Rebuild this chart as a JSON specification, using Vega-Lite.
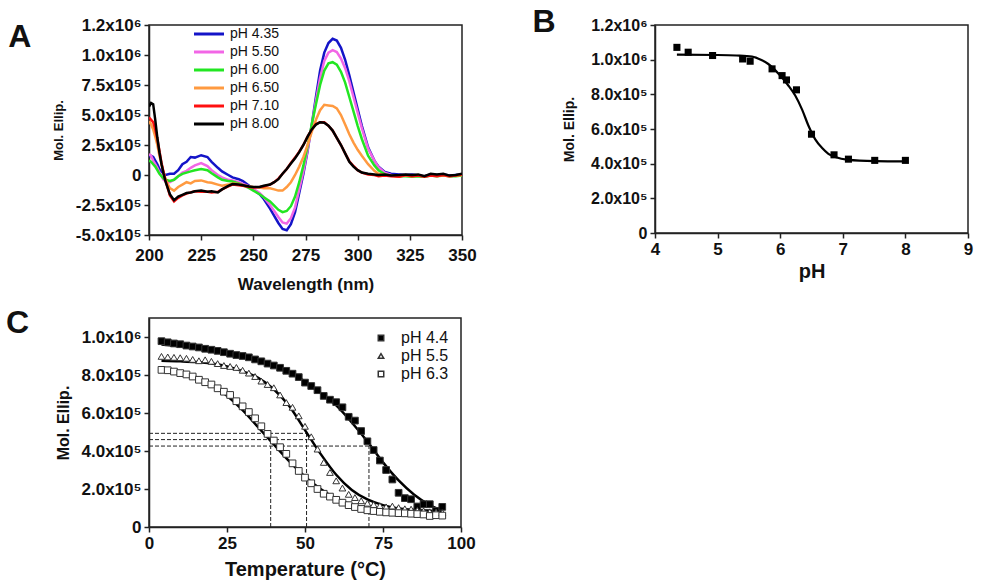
{
  "$schema": "https://vega.github.io/schema/vega-lite/v6.json",
  "padding": {"left": 5, "top": 5, "right": 5, "bottom": 5},
  "background": "white",
  "config": {
    "font": "Liberation Sans",
    "view": {"stroke": "#222", "strokeWidth": 1.5},
    "axis": {"grid": false, "domainColor": "#222", "domainWidth": 1.5, "tickColor": "#222", "tickWidth": 1.5, "tickSize": 5, "labelFontWeight": "bold", "labelColor": "#111", "titleFontWeight": "bold", "titleColor": "#111", "labelFontSize": 17, "labelPadding": 3, "labelFlush": false, "labelBound": false},
    "title": {"fontSize": 32, "fontWeight": "bold", "anchor": "start", "frame": "bounds", "color": "#111", "offset": 0, "baseline": "alphabetic"},
    "legend": {"labelFont": "Liberation Sans", "labelColor": "#111"}
  },
  "resolve": {"legend": {"color": "independent", "shape": "independent", "fill": "independent"}},
  "datasets": {
    "cd": [
      {"w":200,"pH 4.35":155000,"pH 5.50":175000,"pH 6.00":120000,"pH 6.50":450000,"pH 7.10":480000,"pH 8.00":570000},
      {"w":201,"pH 4.35":160000,"pH 5.50":160000,"pH 6.00":110000,"pH 6.50":420000,"pH 7.10":460000,"pH 8.00":600000},
      {"w":202,"pH 4.35":150000,"pH 5.50":120000,"pH 6.00":90000,"pH 6.50":380000,"pH 7.10":440000,"pH 8.00":590000},
      {"w":203,"pH 4.35":120000,"pH 5.50":90000,"pH 6.00":70000,"pH 6.50":320000,"pH 7.10":380000,"pH 8.00":460000},
      {"w":204,"pH 4.35":90000,"pH 5.50":60000,"pH 6.00":40000,"pH 6.50":250000,"pH 7.10":300000,"pH 8.00":310000},
      {"w":205,"pH 4.35":50000,"pH 5.50":20000,"pH 6.00":10000,"pH 6.50":160000,"pH 7.10":200000,"pH 8.00":190000},
      {"w":206,"pH 4.35":30000,"pH 5.50":-10000,"pH 6.00":-10000,"pH 6.50":90000,"pH 7.10":100000,"pH 8.00":90000},
      {"w":207,"pH 4.35":10000,"pH 5.50":-40000,"pH 6.00":-30000,"pH 6.50":20000,"pH 7.10":20000,"pH 8.00":10000},
      {"w":208,"pH 4.35":0,"pH 5.50":-50000,"pH 6.00":-40000,"pH 6.50":-40000,"pH 7.10":-50000,"pH 8.00":-60000},
      {"w":210,"pH 4.35":10000,"pH 5.50":-60000,"pH 6.00":-50000,"pH 6.50":-110000,"pH 7.10":-170000,"pH 8.00":-160000},
      {"w":212,"pH 4.35":10000,"pH 5.50":-40000,"pH 6.00":-40000,"pH 6.50":-130000,"pH 7.10":-220000,"pH 8.00":-210000},
      {"w":214,"pH 4.35":40000,"pH 5.50":-10000,"pH 6.00":-10000,"pH 6.50":-100000,"pH 7.10":-190000,"pH 8.00":-180000},
      {"w":216,"pH 4.35":90000,"pH 5.50":20000,"pH 6.00":10000,"pH 6.50":-80000,"pH 7.10":-170000,"pH 8.00":-165000},
      {"w":218,"pH 4.35":110000,"pH 5.50":35000,"pH 6.00":20000,"pH 6.50":-60000,"pH 7.10":-155000,"pH 8.00":-150000},
      {"w":220,"pH 4.35":150000,"pH 5.50":60000,"pH 6.00":30000,"pH 6.50":-70000,"pH 7.10":-145000,"pH 8.00":-145000},
      {"w":222,"pH 4.35":145000,"pH 5.50":80000,"pH 6.00":40000,"pH 6.50":-50000,"pH 7.10":-135000,"pH 8.00":-135000},
      {"w":225,"pH 4.35":165000,"pH 5.50":100000,"pH 6.00":50000,"pH 6.50":-45000,"pH 7.10":-140000,"pH 8.00":-130000},
      {"w":228,"pH 4.35":150000,"pH 5.50":75000,"pH 6.00":40000,"pH 6.50":-60000,"pH 7.10":-140000,"pH 8.00":-140000},
      {"w":230,"pH 4.35":110000,"pH 5.50":40000,"pH 6.00":15000,"pH 6.50":-65000,"pH 7.10":-145000,"pH 8.00":-135000},
      {"w":233,"pH 4.35":60000,"pH 5.50":0,"pH 6.00":-20000,"pH 6.50":-80000,"pH 7.10":-140000,"pH 8.00":-145000},
      {"w":235,"pH 4.35":30000,"pH 5.50":-20000,"pH 6.00":-40000,"pH 6.50":-90000,"pH 7.10":-120000,"pH 8.00":-120000},
      {"w":238,"pH 4.35":0,"pH 5.50":-40000,"pH 6.00":-50000,"pH 6.50":-80000,"pH 7.10":-95000,"pH 8.00":-90000},
      {"w":240,"pH 4.35":-20000,"pH 5.50":-45000,"pH 6.00":-55000,"pH 6.50":-70000,"pH 7.10":-80000,"pH 8.00":-75000},
      {"w":243,"pH 4.35":-35000,"pH 5.50":-60000,"pH 6.00":-70000,"pH 6.50":-75000,"pH 7.10":-85000,"pH 8.00":-80000},
      {"w":245,"pH 4.35":-50000,"pH 5.50":-75000,"pH 6.00":-85000,"pH 6.50":-85000,"pH 7.10":-90000,"pH 8.00":-85000},
      {"w":248,"pH 4.35":-90000,"pH 5.50":-95000,"pH 6.00":-110000,"pH 6.50":-95000,"pH 7.10":-100000,"pH 8.00":-95000},
      {"w":250,"pH 4.35":-120000,"pH 5.50":-115000,"pH 6.00":-130000,"pH 6.50":-100000,"pH 7.10":-105000,"pH 8.00":-100000},
      {"w":253,"pH 4.35":-160000,"pH 5.50":-150000,"pH 6.00":-160000,"pH 6.50":-105000,"pH 7.10":-100000,"pH 8.00":-100000},
      {"w":255,"pH 4.35":-200000,"pH 5.50":-185000,"pH 6.00":-185000,"pH 6.50":-110000,"pH 7.10":-95000,"pH 8.00":-90000},
      {"w":258,"pH 4.35":-280000,"pH 5.50":-250000,"pH 6.00":-220000,"pH 6.50":-110000,"pH 7.10":-80000,"pH 8.00":-80000},
      {"w":260,"pH 4.35":-340000,"pH 5.50":-300000,"pH 6.00":-255000,"pH 6.50":-120000,"pH 7.10":-60000,"pH 8.00":-60000},
      {"w":262,"pH 4.35":-400000,"pH 5.50":-350000,"pH 6.00":-290000,"pH 6.50":-130000,"pH 7.10":-30000,"pH 8.00":-35000},
      {"w":264,"pH 4.35":-450000,"pH 5.50":-395000,"pH 6.00":-310000,"pH 6.50":-130000,"pH 7.10":10000,"pH 8.00":10000},
      {"w":266,"pH 4.35":-460000,"pH 5.50":-405000,"pH 6.00":-300000,"pH 6.50":-100000,"pH 7.10":50000,"pH 8.00":50000},
      {"w":268,"pH 4.35":-410000,"pH 5.50":-360000,"pH 6.00":-260000,"pH 6.50":-60000,"pH 7.10":100000,"pH 8.00":95000},
      {"w":270,"pH 4.35":-310000,"pH 5.50":-270000,"pH 6.00":-180000,"pH 6.50":0,"pH 7.10":145000,"pH 8.00":140000},
      {"w":272,"pH 4.35":-150000,"pH 5.50":-120000,"pH 6.00":-60000,"pH 6.50":70000,"pH 7.10":195000,"pH 8.00":190000},
      {"w":274,"pH 4.35":10000,"pH 5.50":30000,"pH 6.00":80000,"pH 6.50":150000,"pH 7.10":250000,"pH 8.00":250000},
      {"w":276,"pH 4.35":200000,"pH 5.50":210000,"pH 6.00":240000,"pH 6.50":250000,"pH 7.10":320000,"pH 8.00":320000},
      {"w":278,"pH 4.35":420000,"pH 5.50":410000,"pH 6.00":420000,"pH 6.50":360000,"pH 7.10":380000,"pH 8.00":380000},
      {"w":280,"pH 4.35":650000,"pH 5.50":620000,"pH 6.00":590000,"pH 6.50":460000,"pH 7.10":425000,"pH 8.00":420000},
      {"w":282,"pH 4.35":870000,"pH 5.50":810000,"pH 6.00":750000,"pH 6.50":540000,"pH 7.10":440000,"pH 8.00":440000},
      {"w":284,"pH 4.35":1020000,"pH 5.50":950000,"pH 6.00":870000,"pH 6.50":585000,"pH 7.10":440000,"pH 8.00":435000},
      {"w":286,"pH 4.35":1100000,"pH 5.50":1020000,"pH 6.00":930000,"pH 6.50":580000,"pH 7.10":410000,"pH 8.00":410000},
      {"w":288,"pH 4.35":1135000,"pH 5.50":1040000,"pH 6.00":940000,"pH 6.50":575000,"pH 7.10":370000,"pH 8.00":370000},
      {"w":290,"pH 4.35":1120000,"pH 5.50":1025000,"pH 6.00":920000,"pH 6.50":555000,"pH 7.10":310000,"pH 8.00":310000},
      {"w":292,"pH 4.35":1060000,"pH 5.50":970000,"pH 6.00":860000,"pH 6.50":500000,"pH 7.10":250000,"pH 8.00":250000},
      {"w":294,"pH 4.35":960000,"pH 5.50":890000,"pH 6.00":770000,"pH 6.50":420000,"pH 7.10":180000,"pH 8.00":180000},
      {"w":296,"pH 4.35":830000,"pH 5.50":780000,"pH 6.00":650000,"pH 6.50":340000,"pH 7.10":115000,"pH 8.00":110000},
      {"w":298,"pH 4.35":690000,"pH 5.50":650000,"pH 6.00":530000,"pH 6.50":270000,"pH 7.10":75000,"pH 8.00":70000},
      {"w":300,"pH 4.35":550000,"pH 5.50":520000,"pH 6.00":410000,"pH 6.50":210000,"pH 7.10":40000,"pH 8.00":40000},
      {"w":302,"pH 4.35":410000,"pH 5.50":390000,"pH 6.00":300000,"pH 6.50":160000,"pH 7.10":20000,"pH 8.00":20000},
      {"w":305,"pH 4.35":230000,"pH 5.50":220000,"pH 6.00":160000,"pH 6.50":90000,"pH 7.10":5000,"pH 8.00":10000},
      {"w":308,"pH 4.35":120000,"pH 5.50":120000,"pH 6.00":80000,"pH 6.50":35000,"pH 7.10":0,"pH 8.00":5000},
      {"w":310,"pH 4.35":70000,"pH 5.50":65000,"pH 6.00":40000,"pH 6.50":10000,"pH 7.10":-10000,"pH 8.00":0},
      {"w":313,"pH 4.35":25000,"pH 5.50":20000,"pH 6.00":5000,"pH 6.50":0,"pH 7.10":-5000,"pH 8.00":5000},
      {"w":316,"pH 4.35":10000,"pH 5.50":0,"pH 6.00":-5000,"pH 6.50":-5000,"pH 7.10":-10000,"pH 8.00":-5000},
      {"w":320,"pH 4.35":5000,"pH 5.50":-10000,"pH 6.00":-10000,"pH 6.50":-10000,"pH 7.10":-15000,"pH 8.00":0},
      {"w":323,"pH 4.35":0,"pH 5.50":-5000,"pH 6.00":-10000,"pH 6.50":-5000,"pH 7.10":0,"pH 8.00":5000},
      {"w":326,"pH 4.35":5000,"pH 5.50":-10000,"pH 6.00":-15000,"pH 6.50":-10000,"pH 7.10":-10000,"pH 8.00":0},
      {"w":329,"pH 4.35":-5000,"pH 5.50":-5000,"pH 6.00":-10000,"pH 6.50":-5000,"pH 7.10":-5000,"pH 8.00":5000},
      {"w":332,"pH 4.35":-10000,"pH 5.50":-15000,"pH 6.00":-15000,"pH 6.50":-10000,"pH 7.10":-15000,"pH 8.00":-10000},
      {"w":335,"pH 4.35":5000,"pH 5.50":0,"pH 6.00":-5000,"pH 6.50":0,"pH 7.10":-5000,"pH 8.00":10000},
      {"w":338,"pH 4.35":0,"pH 5.50":-5000,"pH 6.00":-10000,"pH 6.50":-5000,"pH 7.10":-10000,"pH 8.00":5000},
      {"w":341,"pH 4.35":5000,"pH 5.50":0,"pH 6.00":-5000,"pH 6.50":-5000,"pH 7.10":0,"pH 8.00":10000},
      {"w":344,"pH 4.35":-5000,"pH 5.50":-10000,"pH 6.00":-10000,"pH 6.50":-10000,"pH 7.10":-10000,"pH 8.00":-5000},
      {"w":347,"pH 4.35":0,"pH 5.50":-5000,"pH 6.00":-10000,"pH 6.50":-5000,"pH 7.10":-5000,"pH 8.00":0},
      {"w":350,"pH 4.35":5000,"pH 5.50":0,"pH 6.00":-5000,"pH 6.50":0,"pH 7.10":5000,"pH 8.00":10000}
    ],
    "bpts": [
      {"pH":4.35,"ellip":1071000},{"pH":4.53,"ellip":1043000},{"pH":4.92,"ellip":1024000},
      {"pH":5.40,"ellip":1004000},{"pH":5.52,"ellip":991000},{"pH":5.87,"ellip":947000},
      {"pH":6.03,"ellip":908000},{"pH":6.10,"ellip":883000},{"pH":6.26,"ellip":826000},
      {"pH":6.50,"ellip":570000},{"pH":6.86,"ellip":451000},{"pH":7.09,"ellip":426000},
      {"pH":7.51,"ellip":419000},{"pH":8.00,"ellip":419000}
    ],
    "bfit": [
      {"pH":4.35,"ellip":1029000},{"pH":5.0,"ellip":1027000},{"pH":5.3,"ellip":1024000},
      {"pH":5.55,"ellip":1018000},{"pH":5.7,"ellip":998000},{"pH":5.81,"ellip":975000},
      {"pH":6.0,"ellip":908000},{"pH":6.13,"ellip":851000},{"pH":6.24,"ellip":793000},
      {"pH":6.35,"ellip":712000},{"pH":6.45,"ellip":620000},{"pH":6.56,"ellip":540000},
      {"pH":6.67,"ellip":490000},{"pH":6.77,"ellip":457000},{"pH":6.88,"ellip":438000},
      {"pH":7.09,"ellip":422000},{"pH":7.52,"ellip":415000},{"pH":8.0,"ellip":413000}
    ],
    "cpts": [
      {"T":4,"pH 4.4":978000,"pH 5.5":898000,"pH 6.3":827000},
      {"T":6,"pH 4.4":972000,"pH 5.5":895000,"pH 6.3":825000},
      {"T":8,"pH 4.4":966000,"pH 5.5":893000,"pH 6.3":818000},
      {"T":10,"pH 4.4":962000,"pH 5.5":891000,"pH 6.3":810000},
      {"T":12,"pH 4.4":955000,"pH 5.5":888000,"pH 6.3":803000},
      {"T":14,"pH 4.4":950000,"pH 5.5":882000,"pH 6.3":792000},
      {"T":16,"pH 4.4":945000,"pH 5.5":875000,"pH 6.3":775000},
      {"T":18,"pH 4.4":938000,"pH 5.5":880000,"pH 6.3":762000},
      {"T":20,"pH 4.4":933000,"pH 5.5":872000,"pH 6.3":750000},
      {"T":22,"pH 4.4":927000,"pH 5.5":860000,"pH 6.3":730000},
      {"T":24,"pH 4.4":920000,"pH 5.5":850000,"pH 6.3":712000},
      {"T":26,"pH 4.4":912000,"pH 5.5":845000,"pH 6.3":695000},
      {"T":28,"pH 4.4":905000,"pH 5.5":840000,"pH 6.3":662000},
      {"T":30,"pH 4.4":900000,"pH 5.5":825000,"pH 6.3":635000},
      {"T":32,"pH 4.4":893000,"pH 5.5":810000,"pH 6.3":605000},
      {"T":34,"pH 4.4":882000,"pH 5.5":792000,"pH 6.3":572000},
      {"T":36,"pH 4.4":872000,"pH 5.5":768000,"pH 6.3":530000},
      {"T":38,"pH 4.4":860000,"pH 5.5":750000,"pH 6.3":490000},
      {"T":40,"pH 4.4":850000,"pH 5.5":733000,"pH 6.3":455000},
      {"T":42,"pH 4.4":838000,"pH 5.5":695000,"pH 6.3":420000},
      {"T":44,"pH 4.4":822000,"pH 5.5":655000,"pH 6.3":385000},
      {"T":46,"pH 4.4":807000,"pH 5.5":630000,"pH 6.3":335000},
      {"T":48,"pH 4.4":789000,"pH 5.5":585000,"pH 6.3":295000},
      {"T":50,"pH 4.4":760000,"pH 5.5":530000,"pH 6.3":260000},
      {"T":52,"pH 4.4":742000,"pH 5.5":475000,"pH 6.3":230000},
      {"T":54,"pH 4.4":720000,"pH 5.5":410000,"pH 6.3":200000},
      {"T":56,"pH 4.4":690000,"pH 5.5":340000,"pH 6.3":175000},
      {"T":58,"pH 4.4":670000,"pH 5.5":287000,"pH 6.3":160000},
      {"T":60,"pH 4.4":657000,"pH 5.5":243000,"pH 6.3":143000},
      {"T":62,"pH 4.4":630000,"pH 5.5":205000,"pH 6.3":128000},
      {"T":64,"pH 4.4":580000,"pH 5.5":172000,"pH 6.3":115000},
      {"T":66,"pH 4.4":560000,"pH 5.5":155000,"pH 6.3":105000},
      {"T":68,"pH 4.4":505000,"pH 5.5":138000,"pH 6.3":95000},
      {"T":70,"pH 4.4":451000,"pH 5.5":125000,"pH 6.3":88000},
      {"T":72,"pH 4.4":405000,"pH 5.5":118000,"pH 6.3":84000},
      {"T":74,"pH 4.4":350000,"pH 5.5":112000,"pH 6.3":80000},
      {"T":76,"pH 4.4":300000,"pH 5.5":106000,"pH 6.3":77000},
      {"T":78,"pH 4.4":250000,"pH 5.5":110000,"pH 6.3":75000},
      {"T":80,"pH 4.4":180000,"pH 5.5":102000,"pH 6.3":73000},
      {"T":82,"pH 4.4":152000,"pH 5.5":96000,"pH 6.3":72000},
      {"T":84,"pH 4.4":146000,"pH 5.5":94000,"pH 6.3":70000},
      {"T":86,"pH 4.4":108000,"pH 5.5":88000,"pH 6.3":68000},
      {"T":88,"pH 4.4":120000,"pH 5.5":85000,"pH 6.3":66000},
      {"T":90,"pH 4.4":120000,"pH 5.5":80000,"pH 6.3":58000},
      {"T":92,"pH 4.4":85000,"pH 5.5":78000,"pH 6.3":62000},
      {"T":94,"pH 4.4":106000,"pH 5.5":76000,"pH 6.3":60000}
    ],
    "cfit": [
      {"T":4,"pH 4.4":960000,"pH 5.5":875000,"pH 6.3":835000},
      {"T":10,"pH 4.4":950000,"pH 5.5":872000,"pH 6.3":815000},
      {"T":15,"pH 4.4":940000,"pH 5.5":868000,"pH 6.3":790000},
      {"T":20,"pH 4.4":930000,"pH 5.5":860000,"pH 6.3":750000},
      {"T":25,"pH 4.4":915000,"pH 5.5":845000,"pH 6.3":690000},
      {"T":30,"pH 4.4":900000,"pH 5.5":820000,"pH 6.3":615000},
      {"T":35,"pH 4.4":875000,"pH 5.5":785000,"pH 6.3":525000},
      {"T":40,"pH 4.4":850000,"pH 5.5":725000,"pH 6.3":435000},
      {"T":45,"pH 4.4":815000,"pH 5.5":635000,"pH 6.3":345000},
      {"T":50,"pH 4.4":765000,"pH 5.5":510000,"pH 6.3":265000},
      {"T":55,"pH 4.4":705000,"pH 5.5":385000,"pH 6.3":200000},
      {"T":60,"pH 4.4":640000,"pH 5.5":275000,"pH 6.3":150000},
      {"T":65,"pH 4.4":550000,"pH 5.5":195000,"pH 6.3":117000},
      {"T":70,"pH 4.4":450000,"pH 5.5":145000,"pH 6.3":95000},
      {"T":75,"pH 4.4":340000,"pH 5.5":115000,"pH 6.3":82000},
      {"T":80,"pH 4.4":245000,"pH 5.5":98000,"pH 6.3":74000},
      {"T":85,"pH 4.4":170000,"pH 5.5":90000,"pH 6.3":70000},
      {"T":90,"pH 4.4":115000,"pH 5.5":86000,"pH 6.3":67000},
      {"T":94,"pH 4.4":85000,"pH 5.5":84000,"pH 6.3":66000}
    ],
    "crules": [
      {"x":0,"x2":50.5,"y":493000,"y2":493000},
      {"x":0,"x2":50.5,"y":460000,"y2":460000},
      {"x":0,"x2":70.5,"y":426000,"y2":426000},
      {"x":39,"x2":39,"y":0,"y2":426000},
      {"x":50.5,"x2":50.5,"y":0,"y2":493000},
      {"x":70.5,"x2":70.5,"y":0,"y2":426000}
    ]
  },
  "spacing": 13,
  "vconcat": [
    {
      "columns": 2,
      "align": "none",
      "spacing": 54,
      "resolve": {"legend": {"color": "independent"}},
      "concat": [
        {
          "title": {"text": "A", "dx": -44, "dy": 42},
          "width": 313,
          "height": 210,
          "data": {"name": "cd"},
          "transform": [{"fold": ["pH 4\\.35", "pH 5\\.50", "pH 6\\.00", "pH 6\\.50", "pH 7\\.10", "pH 8\\.00"], "as": ["series", "value"]}],
          "mark": {"type": "line", "strokeWidth": 2.5, "clip": true},
          "encoding": {
            "x": {"field": "w", "type": "quantitative", "scale": {"domain": [200, 350], "nice": false}, "axis": {"values": [200, 225, 250, 275, 300, 325, 350], "format": "d", "title": "Wavelength (nm)", "titleFontSize": 17, "labelPadding": 7, "titlePadding": 13}},
            "y": {"field": "value", "type": "quantitative", "scale": {"domain": [-500000, 1250000], "nice": false, "zero": false}, "axis": {"values": [-500000, -250000, 0, 250000, 500000, 750000, 1000000, 1250000], "labelOverlap": false, "labelExpr": "datum.value == 0 ? '0' : datum.value == 1250000 ? '1.2x10⁶' : datum.value == 1000000 ? '1.0x10⁶' : (datum.value < 0 ? '-' : '') + format(abs(datum.value) / 100000, '.1f') + 'x10⁵'", "title": "Mol. Ellip.", "titleFontSize": 13, "titlePadding": 10}},
            "color": {"field": "series", "type": "nominal", "sort": null, "scale": {"domain": ["pH 4.35", "pH 5.50", "pH 6.00", "pH 6.50", "pH 7.10", "pH 8.00"], "range": ["#1414c8", "#f266e6", "#22e622", "#ff9a40", "#ff1010", "#000000"]}, "legend": {"title": null, "orient": "none", "legendX": 51, "legendY": 0, "labelFontSize": 14, "symbolType": "M-2,0H2", "symbolStrokeWidth": 3, "symbolSize": 225, "rowPadding": 2, "labelOffset": 12}}
          }
        },
        {
          "title": {"text": "B", "dx": -30, "dy": 26},
          "width": 313,
          "height": 208,
          "layer": [
            {
              "data": {"name": "bpts"},
              "mark": {"type": "square", "color": "#000", "size": 50, "opacity": 1},
              "encoding": {
                "x": {"field": "pH", "type": "quantitative", "scale": {"domain": [4, 9], "nice": false, "zero": false}, "axis": {"values": [4, 5, 6, 7, 8, 9], "format": "d", "title": "pH", "titleFontSize": 20, "titlePadding": 4}},
                "y": {"field": "ellip", "type": "quantitative", "scale": {"domain": [0, 1200000], "nice": false}, "axis": {"values": [0, 200000, 400000, 600000, 800000, 1000000, 1200000], "labelOverlap": false, "labelExpr": "datum.value == 0 ? '0' : datum.value >= 1000000 ? format(datum.value / 1000000, '.1f') + 'x10⁶' : format(datum.value / 100000, '.1f') + 'x10⁵'", "labelFontSize": 16, "title": "Mol. Ellip.", "titleFontSize": 14, "titlePadding": 14}}
              }
            },
            {
              "data": {"name": "bfit"},
              "mark": {"type": "line", "color": "#000", "strokeWidth": 2.2, "interpolate": "monotone"},
              "encoding": {
                "x": {"field": "pH", "type": "quantitative", "axis": {"values": [4, 5, 6, 7, 8, 9], "format": "d", "title": "pH", "titleFontSize": 20, "titlePadding": 4}},
                "y": {"field": "ellip", "type": "quantitative", "axis": {"values": [0, 200000, 400000, 600000, 800000, 1000000, 1200000], "labelOverlap": false, "labelExpr": "datum.value == 0 ? '0' : datum.value >= 1000000 ? format(datum.value / 1000000, '.1f') + 'x10⁶' : format(datum.value / 100000, '.1f') + 'x10⁵'", "labelFontSize": 16, "title": "Mol. Ellip.", "titleFontSize": 14, "titlePadding": 14}}
              }
            }
          ]
        }
      ]
    },
    {
      "title": {"text": "C", "dx": -49, "dy": 26},
      "width": 312,
      "height": 209,
      "layer": [
        {
          "data": {"name": "crules"},
          "mark": {"type": "rule", "color": "#222", "strokeWidth": 1, "strokeDash": [4, 2]},
          "encoding": {
            "x": {"field": "x", "type": "quantitative", "scale": {"domain": [0, 100], "nice": false}, "axis": {"values": [0, 25, 50, 75, 100], "format": "d", "title": "Temperature (°C)", "titleFontSize": 20, "titlePadding": 8}},
            "x2": {"field": "x2"},
            "y": {"field": "y", "type": "quantitative", "scale": {"domain": [0, 1100000], "nice": false}, "axis": {"values": [0, 200000, 400000, 600000, 800000, 1000000], "labelOverlap": false, "labelExpr": "datum.value == 0 ? '0' : datum.value >= 1000000 ? format(datum.value / 1000000, '.1f') + 'x10⁶' : format(datum.value / 100000, '.1f') + 'x10⁵'", "title": "Mol. Ellip.", "titleFontSize": 16, "titlePadding": 10}},
            "y2": {"field": "y2"}
          }
        },
        {
          "data": {"name": "cfit"},
          "transform": [{"fold": ["pH 4\\.4", "pH 5\\.5", "pH 6\\.3"], "as": ["series", "ellip"]}],
          "mark": {"type": "line", "color": "#000", "strokeWidth": 2.5, "interpolate": "monotone"},
          "encoding": {
            "x": {"field": "T", "type": "quantitative"},
            "y": {"field": "ellip", "type": "quantitative"},
            "detail": {"field": "series", "type": "nominal"}
          }
        },
        {
          "data": {"name": "cpts"},
          "transform": [{"fold": ["pH 4\\.4", "pH 5\\.5", "pH 6\\.3"], "as": ["series", "ellip"]}],
          "mark": {"type": "point", "filled": true, "stroke": "#333", "strokeWidth": 1, "size": 45, "opacity": 1},
          "encoding": {
            "x": {"field": "T", "type": "quantitative"},
            "y": {"field": "ellip", "type": "quantitative"},
            "shape": {"field": "series", "type": "nominal", "scale": {"domain": ["pH 4.4", "pH 5.5", "pH 6.3"], "range": ["square", "triangle-up", "square"]}, "legend": {"title": null, "orient": "top-right", "offset": 12, "labelFontSize": 16, "symbolSize": 30, "rowPadding": 2, "labelOffset": 12, "encode": {"symbols": {"update": {"stroke": {"value": "#333"}, "strokeWidth": {"value": 1}}}}}},
            "fill": {"field": "series", "type": "nominal", "scale": {"domain": ["pH 4.4", "pH 5.5", "pH 6.3"], "range": ["#000000", "#ffffff", "#ffffff"]}, "legend": {"title": null, "orient": "top-right", "offset": 12, "labelFontSize": 16, "symbolSize": 30, "rowPadding": 2, "labelOffset": 12, "encode": {"symbols": {"update": {"stroke": {"value": "#333"}, "strokeWidth": {"value": 1}}}}}}
          }
        }
      ]
    }
  ]
}
